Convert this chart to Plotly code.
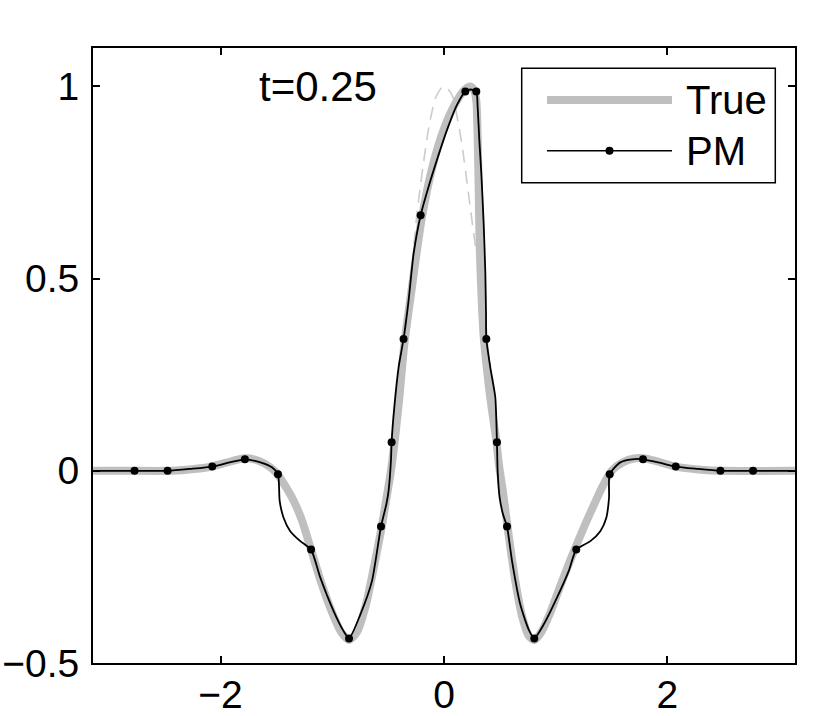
import plotly.graph_objects as go
import math

PI = math.pi

# ---- data ----
true_x = [-PI, -2.8, -2.5, -2.3, -2.1, -1.95, -1.8, -1.7, -1.6, -1.5, -1.42, -1.346, -1.27,
          -1.19, -1.1, -1.0, -0.92, -0.85, -0.78, -0.7, -0.62, -0.56, -0.52, -0.48, -0.44,
          -0.40, -0.355, -0.3, -0.2, -0.1, 0.0, 0.1, 0.18, 0.235, 0.27, 0.29, 0.30, 0.31,
          0.32, 0.335, 0.355, 0.41, 0.47, 0.49, 0.53, 0.58, 0.64, 0.70, 0.76, 0.81, 0.87,
          0.95, 1.04, 1.12, 1.19, 1.27, 1.34, 1.42, 1.5, 1.6, 1.7, 1.8, 1.9, 2.07, 2.3,
          2.5, PI]
true_y = [0.0, 0.0, 0.0, 0.003, 0.010, 0.021, 0.032, 0.030, 0.018, -0.005, -0.04, -0.078, -0.13,
          -0.205, -0.29, -0.37, -0.42, -0.44, -0.42, -0.35, -0.24, -0.15, -0.08, -0.01, 0.08,
          0.19, 0.33, 0.45, 0.655, 0.795, 0.89, 0.955, 0.99, 1.0, 0.99, 0.96, 0.88, 0.74,
          0.58, 0.46, 0.35, 0.2, 0.074, 0.02, -0.06, -0.17, -0.29, -0.38, -0.43, -0.44, -0.42,
          -0.37, -0.30, -0.24, -0.19, -0.135, -0.09, -0.04, 0.0, 0.022, 0.032, 0.032, 0.025, 0.011, 0.003,
          0.0, 0.0]

pm_line_x = [-PI, -2.77, -2.474, -2.27, -2.074, -1.93, -1.782, -1.644, -1.54, -1.486, -1.471,
             -1.436, -1.376, -1.286, -1.19, -1.107, -0.988, -0.899, -0.85, -0.749, -0.645,
             -0.564, -0.516, -0.496, -0.475, -0.469, -0.445, -0.406, -0.362, -0.317, -0.272,
             -0.209, -0.138, -0.063, 0.027, 0.116, 0.191, 0.24, 0.289, 0.301, 0.316, 0.334,
             0.355, 0.37, 0.376, 0.379, 0.414, 0.459, 0.474, 0.48, 0.498, 0.528, 0.564, 0.609,
             0.683, 0.758, 0.808, 0.892, 1.011, 1.116, 1.184, 1.31, 1.399, 1.453, 1.477, 1.483,
             1.578, 1.683, 1.781, 1.93, 2.074, 2.27, 2.474, 2.766, PI]
pm_line_y = [0.0, 0.0, 0.0, 0.005, 0.011, 0.021, 0.030, 0.022, 0.009, -0.009, -0.078,
             -0.122, -0.157, -0.183, -0.205, -0.278, -0.365, -0.417, -0.436, -0.374, -0.287,
             -0.145, -0.087, -0.052, 0.026, 0.074, 0.165, 0.27, 0.343, 0.443, 0.565,
             0.665, 0.739, 0.809, 0.887, 0.952, 0.987, 0.992, 0.987, 0.948, 0.861, 0.774,
             0.644, 0.513, 0.409, 0.343, 0.27, 0.191, 0.074, 0.0, -0.07, -0.113, -0.145, -0.235,
             -0.348, -0.413, -0.436, -0.4, -0.33, -0.261, -0.205, -0.183, -0.157, -0.122, -0.07, -0.009,
             0.022, 0.03, 0.030, 0.021, 0.011, 0.005, 0.0, 0.0, 0.0]

pm_nodes_x = [-2.77, -2.474, -2.074, -1.782, -1.486, -1.19, -0.85, -0.564, -0.469, -0.362,
              -0.209, 0.191, 0.289, 0.379, 0.474, 0.564, 0.808, 1.184, 1.483, 1.781, 2.074,
              2.474, 2.766]
pm_nodes_y = [0.0, 0.0, 0.011, 0.030, -0.009, -0.205, -0.436, -0.145, 0.074, 0.343,
              0.665, 0.987, 0.987, 0.343, 0.074, -0.145, -0.436, -0.205, -0.009, 0.030, 0.011,
              0.0, 0.0]

init_x = [-0.30, -0.248, -0.212, -0.167, -0.123, -0.063, 0.0, 0.071, 0.122, 0.167, 0.211, 0.25, 0.295]
init_y = [0.48, 0.652, 0.739, 0.835, 0.913, 0.978, 1.0, 0.978, 0.913, 0.835, 0.739, 0.652, 0.557]

x_ticks = [-2, 0, 2]
y_ticks = [-0.5, 0, 0.5, 1]
legend_labels = ["True", "PM"]
label_text = "t=0.25"

FONT = "Liberation Sans, Arial, Helvetica, sans-serif"

fig = go.Figure()
fig.add_trace(go.Scatter(x=init_x, y=init_y, mode="lines",
                         line=dict(color="#cccccc", width=1.6, dash="13px,8px", shape="spline"),
                         showlegend=False, hoverinfo="skip"))
fig.add_trace(go.Scatter(x=true_x, y=true_y, mode="lines", name=legend_labels[0],
                         line=dict(color="#bfbfbf", width=8, shape="spline", smoothing=0.7),
                         showlegend=False))
fig.add_trace(go.Scatter(x=pm_line_x, y=pm_line_y, mode="lines", name=legend_labels[1],
                         line=dict(color="black", width=1.8, shape="spline", smoothing=0.6),
                         showlegend=False))
fig.add_trace(go.Scatter(x=pm_nodes_x, y=pm_nodes_y, mode="markers", name=legend_labels[1],
                         marker=dict(color="black", size=8), showlegend=False))

axis_common = dict(showgrid=False, zeroline=False, showline=True, linecolor="black",
                   linewidth=2, mirror="ticks", ticks="inside", ticklen=7, tickwidth=1.5,
                   tickcolor="black", automargin=False,
                   tickfont=dict(family=FONT, size=39, color="black"))
fig.update_xaxes(range=[-PI, PI], tickvals=x_ticks, ticklabelstandoff=-4, **axis_common)
fig.update_yaxes(range=[-0.5, 1.1], tickvals=y_ticks, ticklabelstandoff=4, **axis_common)

# legend box drawn manually to match the long line samples
def px2x(px):
    return (px - 93) / 702.0

def py2y(py):
    return (663 - py) / 615.0

shapes = [
    dict(type="rect", xref="paper", yref="paper", x0=px2x(521.7), x1=px2x(775.3),
         y0=py2y(182.7), y1=py2y(68.3), line=dict(color="black", width=1.5), fillcolor="white",
         layer="above"),
    dict(type="line", xref="paper", yref="paper", x0=px2x(547), x1=px2x(672),
         y0=py2y(100), y1=py2y(100), line=dict(color="#bfbfbf", width=8), layer="above"),
    dict(type="line", xref="paper", yref="paper", x0=px2x(547), x1=px2x(672),
         y0=py2y(150.7), y1=py2y(150.7), line=dict(color="black", width=1.5), layer="above"),
    dict(type="circle", xref="paper", yref="paper", xsizemode="pixel", ysizemode="pixel",
         xanchor=px2x(609.5), yanchor=py2y(150.7), x0=-4, x1=4, y0=-4, y1=4,
         fillcolor="black", line=dict(color="black", width=0), layer="above"),
]
annotations = [
    dict(text=legend_labels[0], xref="paper", yref="paper", x=px2x(684), y=py2y(100),
         xanchor="left", yanchor="middle", showarrow=False,
         font=dict(family=FONT, size=40, color="black")),
    dict(text=legend_labels[1], xref="paper", yref="paper", x=px2x(684), y=py2y(150.7),
         xanchor="left", yanchor="middle", showarrow=False,
         font=dict(family=FONT, size=40, color="black")),
    dict(text=label_text, xref="x", yref="y", x=-1.13, y=1.0, xanchor="center",
         yanchor="middle", showarrow=False, font=dict(family=FONT, size=42, color="black")),
]

fig.update_layout(width=822, height=716, margin=dict(l=93, r=27, t=48, b=53, autoexpand=False),
                  plot_bgcolor="white", paper_bgcolor="white", showlegend=False,
                  shapes=shapes, annotations=annotations)

fig.write_html("out.html", config={"displayModeBar": False},
               post_script="document.body.style.margin='0';document.body.style.overflow='hidden';")
